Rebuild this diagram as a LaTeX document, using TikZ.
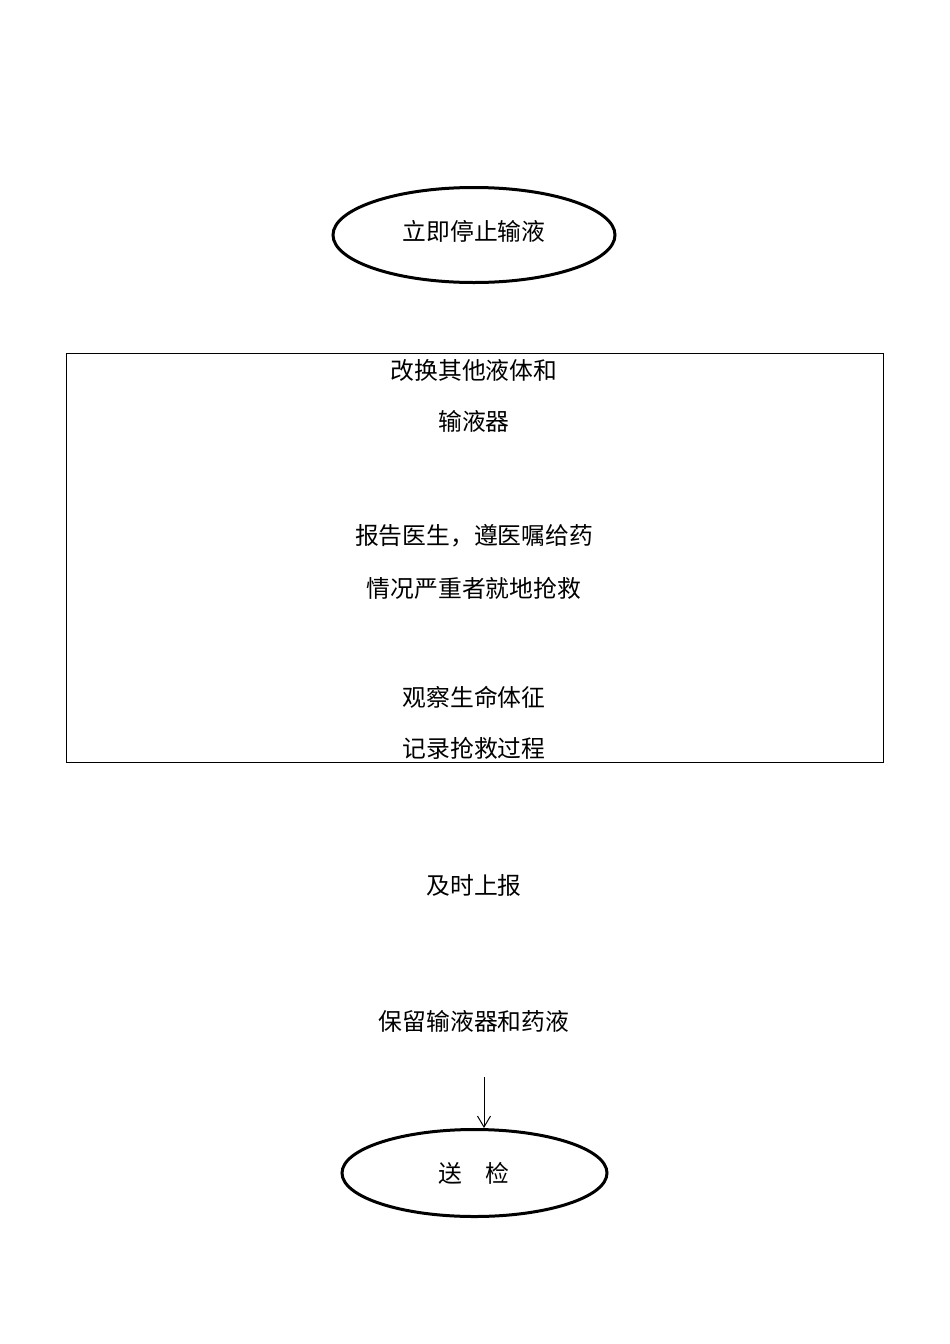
\documentclass[tikz,border=0pt]{standalone}
\usepackage{fontspec}
\setmainfont{Noto Sans CJK SC}
\usetikzlibrary{shapes.geometric,arrows.meta}
\begin{document}
\begin{tikzpicture}[x=1pt,y=-1pt,
  oval/.style={draw,ellipse,line width=3pt,inner sep=0pt},
  label/.style={font=\fontsize{23.8}{28}\selectfont,inner sep=0pt},
  frame/.style={draw,line width=1pt}]
\useasboundingbox (0,0) rectangle (950,1344);
\node[oval,minimum width=282,minimum height=95] (stop) at (474,235) {};
\node[label] (stoptxt) at (474,231) {立即停止输液};
\node[frame,minimum width=817,minimum height=409,anchor=north west,inner sep=0pt] (box) at (66,353) {};
\node[label] (t1) at (474,370) {改换其他液体和};
\node[label] (t2) at (474,421) {输液器};
\node[label] (t3) at (474,536) {报告医生，遵医嘱给药};
\node[label] (t4) at (474,588) {情况严重者就地抢救};
\node[label] (t5) at (474,697) {观察生命体征};
\node[label] (t6) at (474,748) {记录抢救过程};
\node[label] (t7) at (474,885) {及时上报};
\node[label] (t8) at (474,1021) {保留输液器和药液};
\node[oval,minimum width=265,minimum height=87] (send) at (474.5,1173) {};
\node[label] (sendtxt) at (474,1173) {送\hspace{24pt}检};
\coordinate (astart) at (484,1077);
\draw[line width=1pt,-{Straight Barb[length=11pt,width=13pt]}] (astart) -- (astart |- send.north);
\end{tikzpicture}
\end{document}
